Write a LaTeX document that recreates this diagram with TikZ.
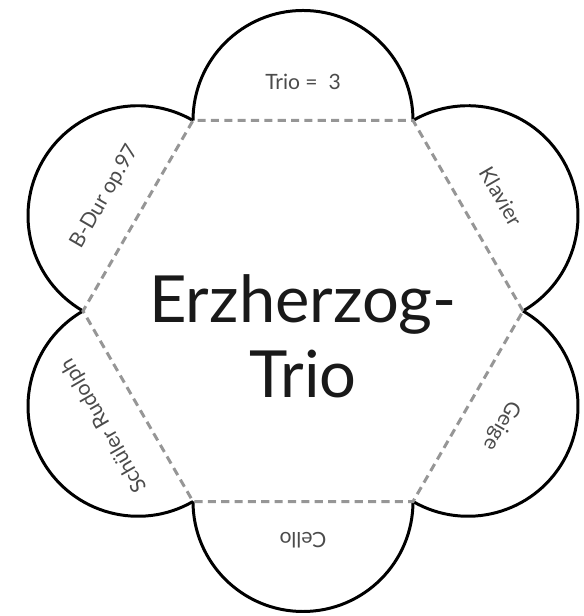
\documentclass[tikz,border=0pt]{standalone}
\usepackage{fontspec}
\setmainfont{Lato}
\usetikzlibrary{positioning}
\definecolor{cutgray}{RGB}{150,150,150}
\definecolor{flapgray}{RGB}{75,75,75}

\begin{document}
\begin{tikzpicture}[
    petal/.style={line width=0.85pt,black},
    cutline/.style={cutgray,line width=0.85pt,dash pattern=on 2.3pt off 1.5pt},
    flaplabel/.style={text=flapgray,font=\fontsize{6}{7.5}\selectfont,inner sep=0pt}]
  \useasboundingbox (-3.03,-3.05) rectangle (2.80,3.11);
  % one half-circle flap on each edge of the hexagon, label rotated outwards
  \foreach \a/\txt in {90/{Trio =\ \ 3},30/Klavier,-30/Geige,-90/Cello,-150/{Schüler Rudolph},150/{B-Dur op.97}} {
    \coordinate (m\a) at (\a:1.905);
    \draw[petal] (m\a) ++(\a-90:1.1) arc[start angle=\a-90,end angle=\a+90,radius=1.1];
    \node[flaplabel,rotate=\a-90] (lab\a) at (\a:2.29) {\txt};
  }
  % folding lines
  \draw[cutline] (0:2.2) \foreach \k in {1,...,5} {-- (\k*60:2.2)} -- cycle;
  \node[align=center,text=black!90,font=\fontsize{18.5}{21.4}\selectfont] (title) at (0,-0.25) {Erzherzog-\\Trio};
\end{tikzpicture}
\end{document}
